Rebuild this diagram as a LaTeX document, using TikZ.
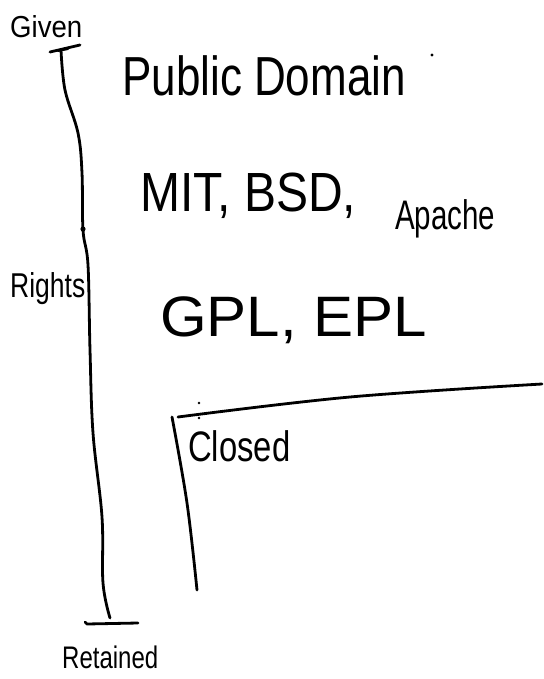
\documentclass[tikz,border=0pt]{standalone}
\usepackage{fontspec}
\usepackage{graphicx}
\setmainfont{Liberation Sans}
\begin{document}
\begin{tikzpicture}[x=1pt,y=1pt,
  pen/.style={line width=2.8pt,line cap=round,line join=round,black},
  lbl/.style={inner sep=0pt,anchor=base west,text=black}]
\useasboundingbox (0,0) rectangle (543,-679);
% axis
\draw[pen] plot[smooth,tension=0.6] coordinates {(61,-50) (65,-90) (78,-133) (82,-173) (83,-230) (88,-265) (90,-350) (93,-433) (102,-517) (103,-583) (110,-618)};
\draw[pen] (50,-52) -- (80,-45);
\draw[pen,line width=2pt] (58,-51) -- (68,-49);
\draw[pen] (85,-622) -- (87,-624) -- (138,-623);
\fill (83,-229) circle (2.6pt);
% closed box
\draw[pen] plot[smooth,tension=0.6] coordinates {(178,-417) (350,-397) (542,-384)};
\draw[pen] plot[smooth,tension=0.6] coordinates {(172,-417) (187,-503) (197,-590)};
\fill (199,-403) circle (1.3pt);
\fill (199,-418) circle (1.3pt);
\fill (432,-55) circle (1.6pt);
% labels
\node[lbl,font=\fontsize{27.6}{30}\selectfont] (given) at (10,-38) {\scalebox{1}[1.1]{Given}};
\node[lbl,font=\fontsize{26.5}{30}\selectfont] (rights) at (10,-297) {\scalebox{1}[1.3]{Rights}};
\node[lbl,font=\fontsize{24}{28}\selectfont] (retained) at (62,-668) {\scalebox{1}[1.3]{Retained}};
\node[lbl,font=\fontsize{44}{50}\selectfont] (pd) at (122,-96) {\scalebox{1}[1.25]{Public Domain}};
\node[lbl,font=\fontsize{48}{54}\selectfont] (mit) at (140,-211) {\scalebox{1}[1.15]{MIT, BSD,}};
\node[lbl,font=\fontsize{29.5}{34}\selectfont] (apache) at (395,-229) {\scalebox{1}[1.4]{Apache}};
\node[lbl,font=\fontsize{60}{66}\selectfont] (gpl) at (160,-336) {\scalebox{1}[0.95]{GPL, EPL}};
\node[lbl,font=\fontsize{32.8}{36}\selectfont] (closed) at (188,-461) {\scalebox{1}[1.3]{Closed}};
\end{tikzpicture}
\end{document}
